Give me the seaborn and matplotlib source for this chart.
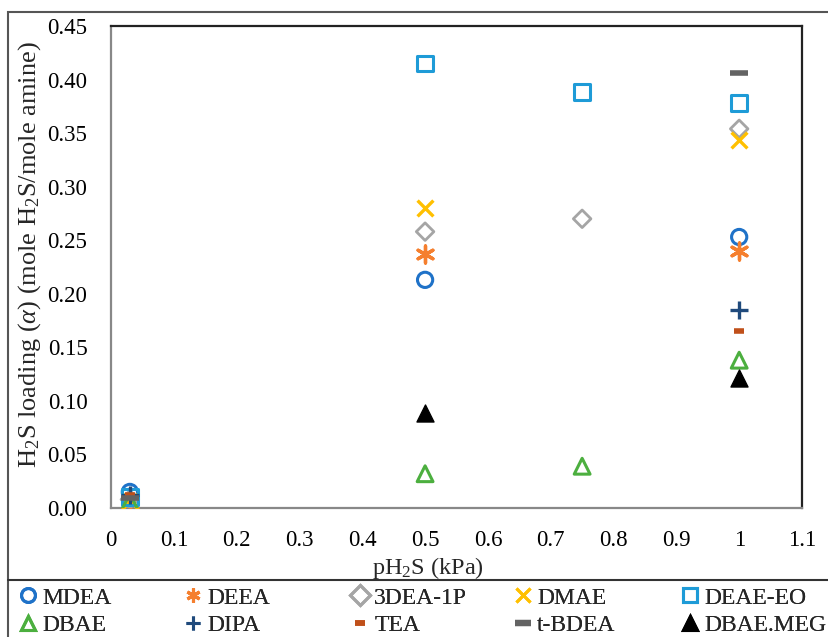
import matplotlib
matplotlib.use("Agg")
import matplotlib.pyplot as plt
from matplotlib.lines import Line2D
from matplotlib.patches import Rectangle
import seaborn as sns
import pandas as pd

sns.set_theme(style="white")
plt.rcParams['font.family'] = ['Liberation Serif', 'DejaVu Serif']
plt.rcParams['mathtext.fontset'] = 'custom'
plt.rcParams['mathtext.rm'] = 'Liberation Serif'
plt.rcParams['mathtext.it'] = 'Liberation Serif:italic'

# ---- data ----
series = ["MDEA", "DEEA", "3DEA-1P", "DMAE", "DEAE-EO",
          "DBAE", "DIPA", "TEA", "t-BDEA", "DBAE.MEG"]
x_mdea = [0.03, 0.5, 1.0];        y_mdea = [0.015, 0.213, 0.253]
x_deea = [0.03, 0.5, 1.0];        y_deea = [0.005, 0.237, 0.240]
x_3dea = [0.03, 0.5, 0.75, 1.0];  y_3dea = [0.008, 0.258, 0.270, 0.354]
x_dmae = [0.03, 0.5, 1.0];        y_dmae = [0.007, 0.280, 0.344]
x_deaeeo = [0.03, 0.5, 0.75, 1.0]; y_deaeeo = [0.010, 0.415, 0.388, 0.378]
x_dbae = [0.03, 0.5, 0.75, 1.0];  y_dbae = [0.006, 0.032, 0.039, 0.138]
x_dipa = [0.03, 1.0];             y_dipa = [0.012, 0.185]
x_tea = [0.03, 1.0];              y_tea = [0.012, 0.165]
x_tbdea = [0.03, 1.0];            y_tbdea = [0.009, 0.406]
x_dbaemeg = [0.5, 1.0];           y_dbaemeg = [0.089, 0.121]
x_ticks = [0, 0.1, 0.2, 0.3, 0.4, 0.5, 0.6, 0.7, 0.8, 0.9, 1.0, 1.1]
x_ticklabels = ["0", "0.1", "0.2", "0.3", "0.4", "0.5", "0.6", "0.7", "0.8", "0.9", "1", "1.1"]
y_ticks = [0, 0.05, 0.10, 0.15, 0.20, 0.25, 0.30, 0.35, 0.40, 0.45]

xs = [x_mdea, x_deea, x_3dea, x_dmae, x_deaeeo, x_dbae, x_dipa, x_tea, x_tbdea, x_dbaemeg]
ys = [y_mdea, y_deea, y_3dea, y_dmae, y_deaeeo, y_dbae, y_dipa, y_tea, y_tbdea, y_dbaemeg]

# ---- styles ----
colors = {"MDEA": "#1F72C8", "DEEA": "#F57F2E", "3DEA-1P": "#A5A5A5", "DMAE": "#FFC000",
          "DEAE-EO": "#1E9BD7", "DBAE": "#4CAF3F", "DIPA": "#1F4A7C", "TEA": "#C0501A",
          "t-BDEA": "#636363", "DBAE.MEG": "#000000"}
markers = {"MDEA": "o", "DEEA": (6, 2, 0), "3DEA-1P": "D", "DMAE": "x", "DEAE-EO": "s",
           "DBAE": "^", "DIPA": "+", "TEA": "_", "t-BDEA": "_", "DBAE.MEG": "^"}
hollow = {"MDEA", "3DEA-1P", "DEAE-EO", "DBAE"}
sizes = {"MDEA": 120, "DEEA": 150, "3DEA-1P": 80, "DMAE": 130, "DEAE-EO": 130,
         "DBAE": 130, "DIPA": 150, "TEA": 60, "t-BDEA": 180, "DBAE.MEG": 150}
lws = {"MDEA": 2.2, "DEEA": 2.4, "3DEA-1P": 2.0, "DMAE": 2.4, "DEAE-EO": 2.2,
       "DBAE": 2.2, "DIPA": 2.4, "TEA": 4.0, "t-BDEA": 4.0, "DBAE.MEG": 1.0}

W, H = 829, 637
fig = plt.figure(figsize=(W/100, H/100), dpi=100)
ax = fig.add_axes([111/W, 1 - 508/H, (802-111)/W, (508-26)/H])

for name, xv, yv in zip(series, xs, ys):
    df = pd.DataFrame({"x": xv, "y": yv})
    n_before = len(ax.collections)
    sns.scatterplot(data=df, x="x", y="y", ax=ax, marker=markers[name],
                    color=colors[name], s=sizes[name], linewidth=lws[name], legend=False, zorder=3)
    coll = ax.collections[n_before]
    coll.set_facecolor("none" if name in hollow else colors[name])
    coll.set_edgecolor(colors[name])
    coll.set_linewidth(lws[name])

ax.set_xlim(0, 1.1)
ax.set_ylim(0, 0.45)
ax.set_xticks(x_ticks)
ax.set_xticklabels(x_ticklabels)
ax.set_yticks(y_ticks)
ax.set_yticklabels([f"{v:.2f}" for v in y_ticks])
ax.tick_params(axis="both", labelsize=16.5, length=0, colors="#000000")
ax.tick_params(axis="y", pad=17)
ax.tick_params(axis="x", pad=16)
for s in ax.spines.values():
    s.set_color("#222222")
    s.set_linewidth(1.6)
ax.spines["left"].set_color("#888888")
ax.spines["bottom"].set_color("#888888")
ax.set_xlabel(r"pH$_2$S (kPa)", fontsize=17.5)
ax.xaxis.set_label_coords((428-111)/(802-111), -(568-508)/(508-26), transform=ax.transAxes)
ax.xaxis.label.set_va("center")
ax.set_ylabel(r"H$_2$S loading ($\mathit{\alpha}$) (mole H$_2$S/mole amine)", fontsize=19)
ax.yaxis.set_label_coords(-(111-30)/(802-111), (508-255)/(508-26), transform=ax.transAxes)
ax.yaxis.label.set_va("center")

# legend: five columns, two rows
handles = {}
for name in series:
    fc = "none" if name in hollow else colors[name]
    ms = {"TEA": 7, "t-BDEA": 11}.get(name, 10)
    mew = {"TEA": 4, "t-BDEA": 4.5}.get(name, 2.2)
    handles[name] = Line2D([], [], linestyle="none", marker=markers[name], markersize=ms,
                           markerfacecolor=fc, markeredgecolor=colors[name], markeredgewidth=mew,
                           color=colors[name])
columns = [("MDEA", "DBAE"), ("DEEA", "DIPA"), ("3DEA-1P", "TEA"),
           ("DMAE", "t-BDEA"), ("DEAE-EO", "DBAE.MEG")]
col_marker_x = [28, 193, 360, 523, 690]
fs_leg = 17
hl = 0.9
for (a, b), mx in zip(columns, col_marker_x):
    left_px = mx - hl * fs_leg * 100 / 72 / 2
    lg = fig.legend([handles[a], handles[b]], [a, b], loc="upper left",
                    bbox_to_anchor=(left_px/W, 1 - 587/H), frameon=False, fontsize=fs_leg,
                    handletextpad=0.15, handlelength=hl, labelspacing=0.25,
                    borderpad=0, borderaxespad=0)
    fig.add_artist(lg)

# outer frames
fig.add_artist(Rectangle((8/W, -0.01), 1.0, 1 - 12/H + 0.01, transform=fig.transFigure,
                         fill=False, edgecolor="#555555", linewidth=1.5))
fig.add_artist(Line2D([8/W, 1], [1 - 580/H, 1 - 580/H], transform=fig.transFigure,
                      color="#333333", linewidth=1.5))

fig.savefig("out.png", dpi=100)
